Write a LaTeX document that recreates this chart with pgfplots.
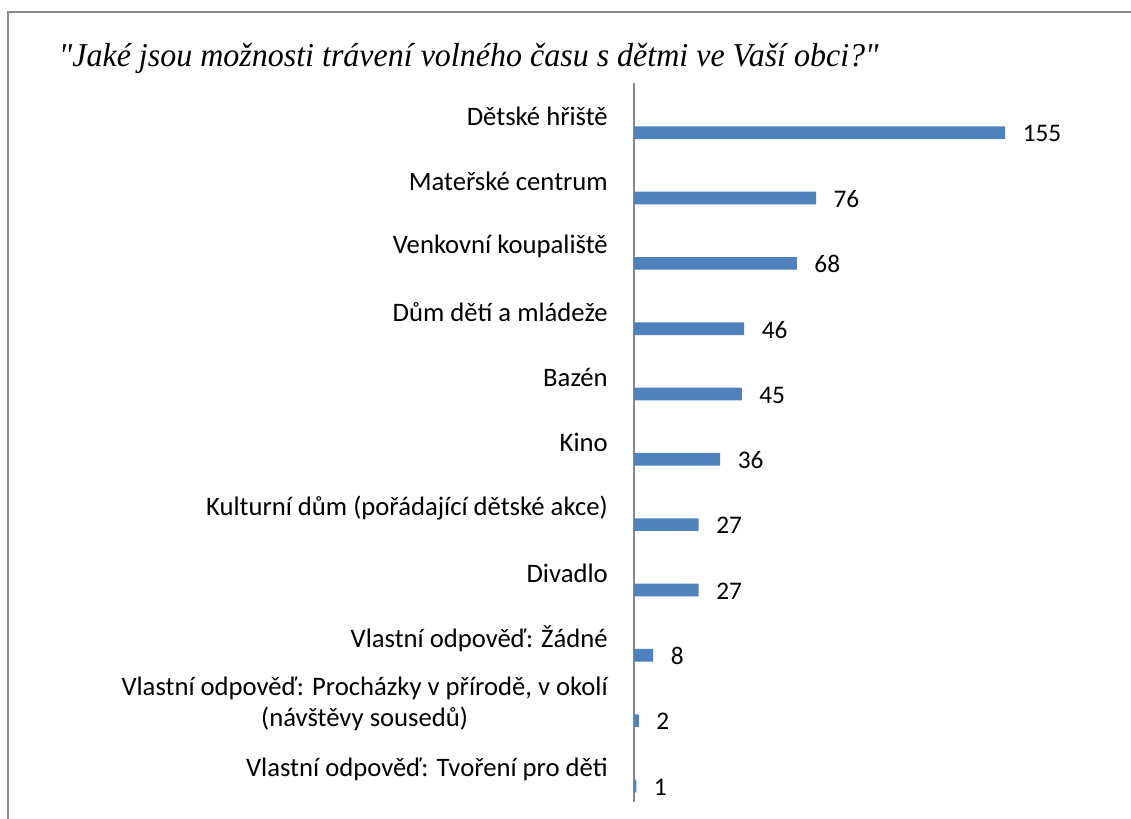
\documentclass[border=0pt]{standalone}
\usepackage{pgfplots}
\pgfplotsset{compat=1.18}
\usepackage{fontspec}
\setmainfont{Carlito}
\newfontfamily\titlefont{Liberation Serif}
\definecolor{barblue}{HTML}{4F81BD}
\definecolor{framegray}{HTML}{898989}
\definecolor{axisgray}{HTML}{868686}
\begin{document}
\begin{tikzpicture}
\useasboundingbox (0,0) rectangle (848.25pt,-613.5pt);
\draw[framegray, line width=1.6pt] (6pt,-9pt) rectangle (1000pt,-800pt);
\node[anchor=base west, inner sep=0pt, font=\titlefont\itshape\fontsize{25}{30}\selectfont] at (44pt,-49.5pt) {\scalebox{0.96}[1]{"Jaké jsou možnosti trávení volného času s dětmi ve Vaší obci?"}};
\begin{axis}[
  at={(475.5pt,-62.25pt)}, anchor=north west,
  scale only axis, width=323.3pt, height=538.9pt,
  xbar, bar width=9.5pt,
  xmin=0, xmax=180,
  ymin=-0.761, ymax=10.239, y dir=reverse,
  axis x line=none, axis y line*=left,
  y axis line style={draw=axisgray, line width=1.5pt},
  major tick length=0pt,
  ytick={0,...,10},
  yticklabels={Dětské hřiště, Mateřské centrum, Venkovní koupaliště, Dům dětí a mládeže, Bazén, Kino, Kulturní dům (pořádající dětské akce), Divadlo, Vlastní odpověď: Žádné, {Vlastní odpověď: Procházky v přírodě, v okolí\\(návštěvy sousedů)}, Vlastní odpověď: Tvoření pro děti},
  yticklabel style={anchor=east, inner sep=0pt, xshift=-19.5pt, yshift=12.4pt, align=center, font=\fontsize{20}{23}\selectfont},
  /pgf/number format/assume math mode=true,
  nodes near coords,
  every node near coord/.style={anchor=west, inner sep=0pt, xshift=13pt, yshift=-0.75pt, font=\fontsize{19}{22.5}\selectfont, text=black},
  clip=false,
]
\addplot[fill=barblue, draw=none] coordinates {
(155,0) (76,1) (68,2) (46,3) (45,4) (36,5) (27,6) (27,7) (8,8) (2,9) (1,10)
};
\end{axis}
\end{tikzpicture}
\end{document}
